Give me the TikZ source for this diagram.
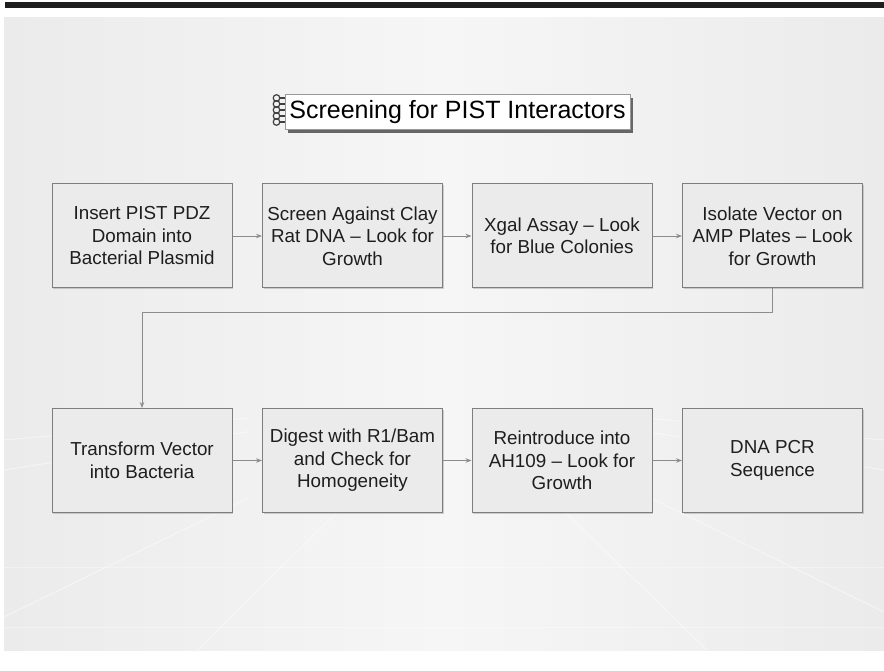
\documentclass[tikz,border=0pt]{standalone}
\usepackage{fontspec}
\setmainfont{Liberation Sans}
\usetikzlibrary{arrows.meta,calc,shadows}
\definecolor{boxfill}{HTML}{EBEBEB}
\definecolor{boxline}{HTML}{7E7E7E}
\definecolor{flowcol}{HTML}{8C8C8C}
\definecolor{inkcol}{HTML}{1E1E1E}
\definecolor{slidegrey}{HTML}{EBEBEB}
\definecolor{slidelight}{HTML}{F6F6F6}
\tikzset{
  stepbox/.style={draw=boxline,fill=boxfill,line width=1pt,minimum width=180pt,minimum height=104pt,
    inner sep=0pt,align=center,text=inkcol,font=\fontsize{18.8}{22.5}\selectfont,
    drop shadow={shadow xshift=1pt,shadow yshift=-1pt,opacity=.35}},
  titlebox/.style={draw=black!40,fill=white,line width=1pt,minimum width=345pt,minimum height=35pt,
    inner sep=2pt,text=black,font=\fontsize{25}{28}\selectfont,
    drop shadow={shadow xshift=3pt,shadow yshift=-3pt,fill=black!60,opacity=1}},
  flow/.style={draw=flowcol,line width=.9pt,-{Stealth[length=6pt,width=4.5pt]}},
  ray/.style={white,line width=1pt,opacity=.45}
}
\begin{document}
\begin{tikzpicture}[x=1pt,y=-1pt]
\useasboundingbox (0,0) rectangle (884,671);
\fill[white] (0,0) rectangle (884,671);
\fill[black!88] (5,2) rectangle (884,8);
\shade[left color=slidegrey,right color=slidegrey,middle color=slidelight] (4,18) rectangle (884,650);
\coordinate (vp) at (450,400);
\foreach \ex/\ey in {4/440,4/470,4/617,198/650,707/650,884/612,884/470,884/440}
  \draw[ray] ($(vp)!.45!(\ex,\ey)$) -- (\ex,\ey);
\draw[ray,opacity=.35] (4,567) -- (884,567);
\draw[ray,opacity=.35] (4,627) -- (884,627);
\node[titlebox] (title) at (457.5,112.5) {Screening for PIST Interactors};
\foreach \k in {0,...,4}{
  \draw[black!75,line width=1.2pt] (276.5,98+6*\k) circle (3.3);
  \draw[black!75,line width=1.2pt] (279,98+6*\k) -- (285,98+6*\k);}
\node[stepbox] (insert) at (142,236) {Insert PIST PDZ\\Domain into\\Bacterial Plasmid};
\node[stepbox] (screen) at (352.5,236) {Screen Against Clay\\Rat DNA – Look for\\Growth};
\node[stepbox] (xgal) at (562,236) {Xgal Assay – Look\\for Blue Colonies};
\node[stepbox] (isolate) at (772.5,236) {Isolate Vector on\\AMP Plates – Look\\for Growth};
\node[stepbox] (transform) at (142,460.5) {Transform Vector\\into Bacteria};
\node[stepbox] (digest) at (352.5,460.5) {Digest with R1/Bam\\and Check for\\Homogeneity};
\node[stepbox] (reintro) at (562,460.5) {Reintroduce into\\AH109 – Look for\\Growth};
\node[stepbox] (dnapcr) at (772.5,460.5) {DNA PCR\\Sequence};
\draw[flow] (insert) -- (screen);
\draw[flow] (screen) -- (xgal);
\draw[flow] (xgal) -- (isolate);
\draw[flow] (isolate.south) -- ++(0,24) -| (transform.north);
\draw[flow] (transform) -- (digest);
\draw[flow] (digest) -- (reintro);
\draw[flow] (reintro) -- (dnapcr);
\end{tikzpicture}
\end{document}
